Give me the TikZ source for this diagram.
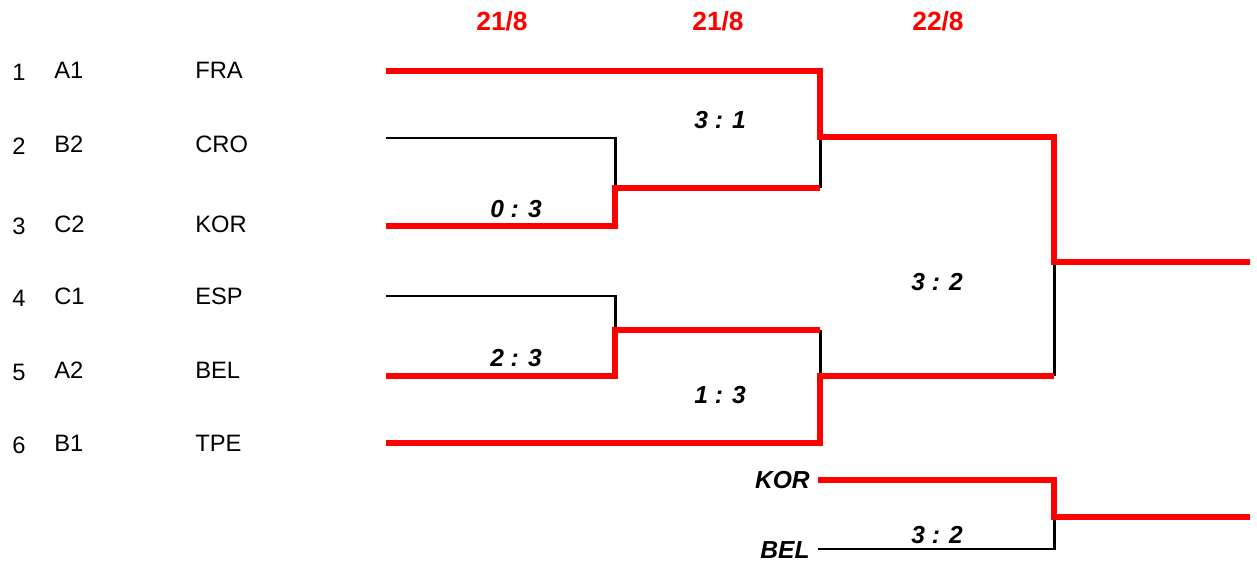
\documentclass[tikz,border=0pt]{standalone}
\usepackage{fontspec}
\setmainfont{Liberation Sans}
\usepackage{tikz}

\begin{document}
\begin{tikzpicture}[x=0.02cm,y=-0.02cm,
    win/.style={red, line width=3.5pt},
    lose/.style={black, line width=1.7pt},
    lbl/.style={font=\fontsize{13.5}{16}\selectfont, anchor=west, inner sep=0pt},
    score/.style={font=\fontsize{14}{16}\selectfont\bfseries\itshape, inner sep=0pt},
    date/.style={font=\fontsize{15}{17}\selectfont\bfseries, text=red, inner sep=0pt}]
    \useasboundingbox (0,0) rectangle (1257,567);

    % dates of the rounds
    \node[date] (d1) at (502,21) {21/8};
    \node[date] (d2) at (718,21) {21/8};
    \node[date] (d3) at (938,21) {22/8};

    % seeded teams
    \foreach \i/\g/\t/\y in {1/A1/FRA/70, 2/B2/CRO/144, 3/C2/KOR/224,
                             4/C1/ESP/296, 5/A2/BEL/370, 6/B1/TPE/443} {
        \node[lbl] (num\i) at (12,\y+2) {\i};
        \node[lbl] (grp\i) at (54,\y) {\g};
        \node[lbl] (team\i) at (195,\y) {\t};
    }
    \coordinate (s1) at (386,71);
    \coordinate (s2) at (386,138);
    \coordinate (s3) at (386,226);
    \coordinate (s4) at (386,296);
    \coordinate (s5) at (386,376);
    \coordinate (s6) at (386,443);

    % bracket points
    \coordinate (r1a) at (615,188);
    \coordinate (r1b) at (615,330);
    \coordinate (q1) at (820,137);
    \coordinate (q2) at (820,376);
    \coordinate (f) at (1054,262);
    \coordinate (e1) at (1250,262);

    % third place match
    \node[score, anchor=east] (kor) at (810,480) {KOR};
    \node[score, anchor=east] (bel) at (810,550) {BEL};
    \coordinate (k) at (818,480);
    \coordinate (b) at (818,549);
    \coordinate (t) at (1054,517);
    \coordinate (e2) at (1250,517);

    % losers
    \draw[lose] (s2) -| (r1a);
    \draw[lose] (s4) -| (r1b);
    \draw[lose] (q1) -- (q1 |- r1a);
    \draw[lose] (q2 |- r1b) -- (q2);
    \draw[lose] (f) -- (f |- q2);
    \draw[lose] (b) -| (t);

    % winners
    \draw[win] (s1) -| (q1) -- (f |- q1) |- (e1);
    \draw[win] (s3) -| (r1a) -- (q1 |- r1a);
    \draw[win] (s5) -| (r1b) -- (q2 |- r1b);
    \draw[win] (s6) -| (q2) -- (f |- q2);
    \draw[win] (k) -| (t) -- (e2);

    % results
    \node[score] (m1) at (516,209) {0 : 3};
    \node[score] (m2) at (516,358) {2 : 3};
    \node[score] (m3) at (720,120) {3 : 1};
    \node[score] (m4) at (720,395) {1 : 3};
    \node[score] (m5) at (937,282) {3 : 2};
    \node[score] (m6) at (937,535) {3 : 2};
\end{tikzpicture}
\end{document}
